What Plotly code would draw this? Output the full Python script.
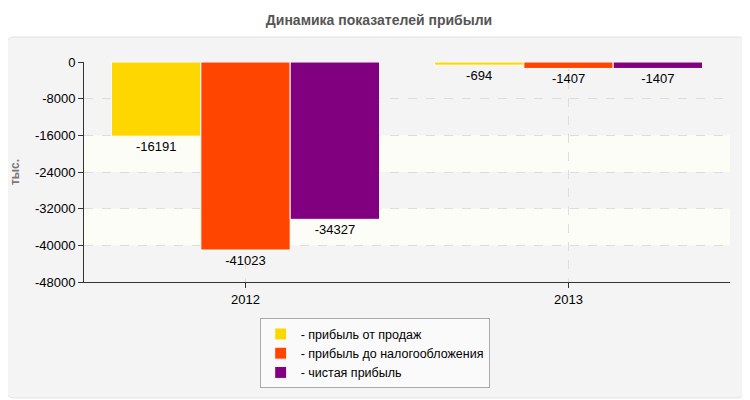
import plotly.graph_objects as go

# data
years = ["2012", "2013"]
series_names = [
    "- прибыль от продаж",
    "- прибыль до налогообложения",
    "- чистая прибыль",
]
sales_profit = [-16191, -694]
pretax_profit = [-41023, -1407]
net_profit = [-34327, -1407]
series_colors = ["#FFD700", "#FF4500", "#800080"]
y_ticks = [0, -8000, -16000, -24000, -32000, -40000, -48000]

FONT = "Liberation Sans, Arial, sans-serif"

fig = go.Figure()
for name, values, color in zip(
    series_names, [sales_profit, pretax_profit, net_profit], series_colors
):
    fig.add_bar(
        x=years,
        y=values,
        name=name,
        marker=dict(color=color, line=dict(color="white", width=1)),
        text=[str(v) for v in values],
        textposition="outside",
        textfont=dict(size=13, color="#000", family=FONT),
        cliponaxis=False,
    )

# the page has an 8px body margin, so the figure is 742x392 and sits at (8, 8)
# panel behind the chart (rounded box)
x0, x1, y0, y1 = -0.12, 1.023, -0.527, 1.114
rx, ry = 0.012, 0.035
panel_path = (
    f"M {x0 + rx},{y1} L {x1 - rx},{y1} Q {x1},{y1} {x1},{y1 - ry} "
    f"L {x1},{y0 + ry} Q {x1},{y0} {x1 - rx},{y0} "
    f"L {x0 + rx},{y0} Q {x0},{y0} {x0},{y0 + ry} "
    f"L {x0},{y1 - ry} Q {x0},{y1} {x0 + rx},{y1} Z"
)
shapes = [
    dict(
        type="path", xref="paper", yref="paper", path=panel_path,
        fillcolor="#f4f4f4", line=dict(color="#e2e2e2", width=1), layer="below",
    )
]
# faint alternating bands inside the plot area
for lo, hi in [(-24000, -16000), (-40000, -32000)]:
    shapes.append(
        dict(
            type="rect", xref="paper", yref="y", x0=0, x1=1, y0=lo, y1=hi,
            fillcolor="#fdfdf7", line=dict(width=0), layer="below",
        )
    )

fig.update_layout(
    width=742,
    height=392,
    margin=dict(l=76, r=20, t=54, b=118, autoexpand=False),
    paper_bgcolor="white",
    plot_bgcolor="#fafafa",
    font=dict(family=FONT, size=13, color="#000"),
    title=dict(
        text="<b>Динамика показателей прибыли</b>",
        x=0.5, xanchor="center", y=0.969, yanchor="middle",
        font=dict(size=14, color="#555", family=FONT),
    ),
    barmode="group",
    bargap=0.17,
    bargroupgap=0.0,
    shapes=shapes,
    showlegend=True,
    legend=dict(
        x=0.45, xanchor="center", y=-0.165, yanchor="top",
        bgcolor="#fafafa", bordercolor="#aaa", borderwidth=1,
        font=dict(size=12.5, color="#000", family=FONT),
        itemwidth=30, tracegroupgap=0,
    ),
    xaxis=dict(
        showline=True, linecolor="#333", linewidth=1, mirror=False,
        ticks="outside", ticklen=5, tickcolor="#333",
        showgrid=True, gridcolor="#ddd", griddash="dash",
        tickfont=dict(size=13, color="#000"),
    ),
    yaxis=dict(
        range=[-48000, 0],
        tickvals=y_ticks,
        ticktext=[str(v) for v in y_ticks],
        showline=True, linecolor="#333", linewidth=1,
        ticks="outside", ticklen=5, tickcolor="#333",
        showgrid=True, gridcolor="#ddd", griddash="dash",
        zeroline=False,
        tickfont=dict(size=13, color="#000"),
        title=dict(text="<b>тыс.</b>", font=dict(size=12, color="#777"), standoff=23),
    ),
)

fig.write_html("out.html")
